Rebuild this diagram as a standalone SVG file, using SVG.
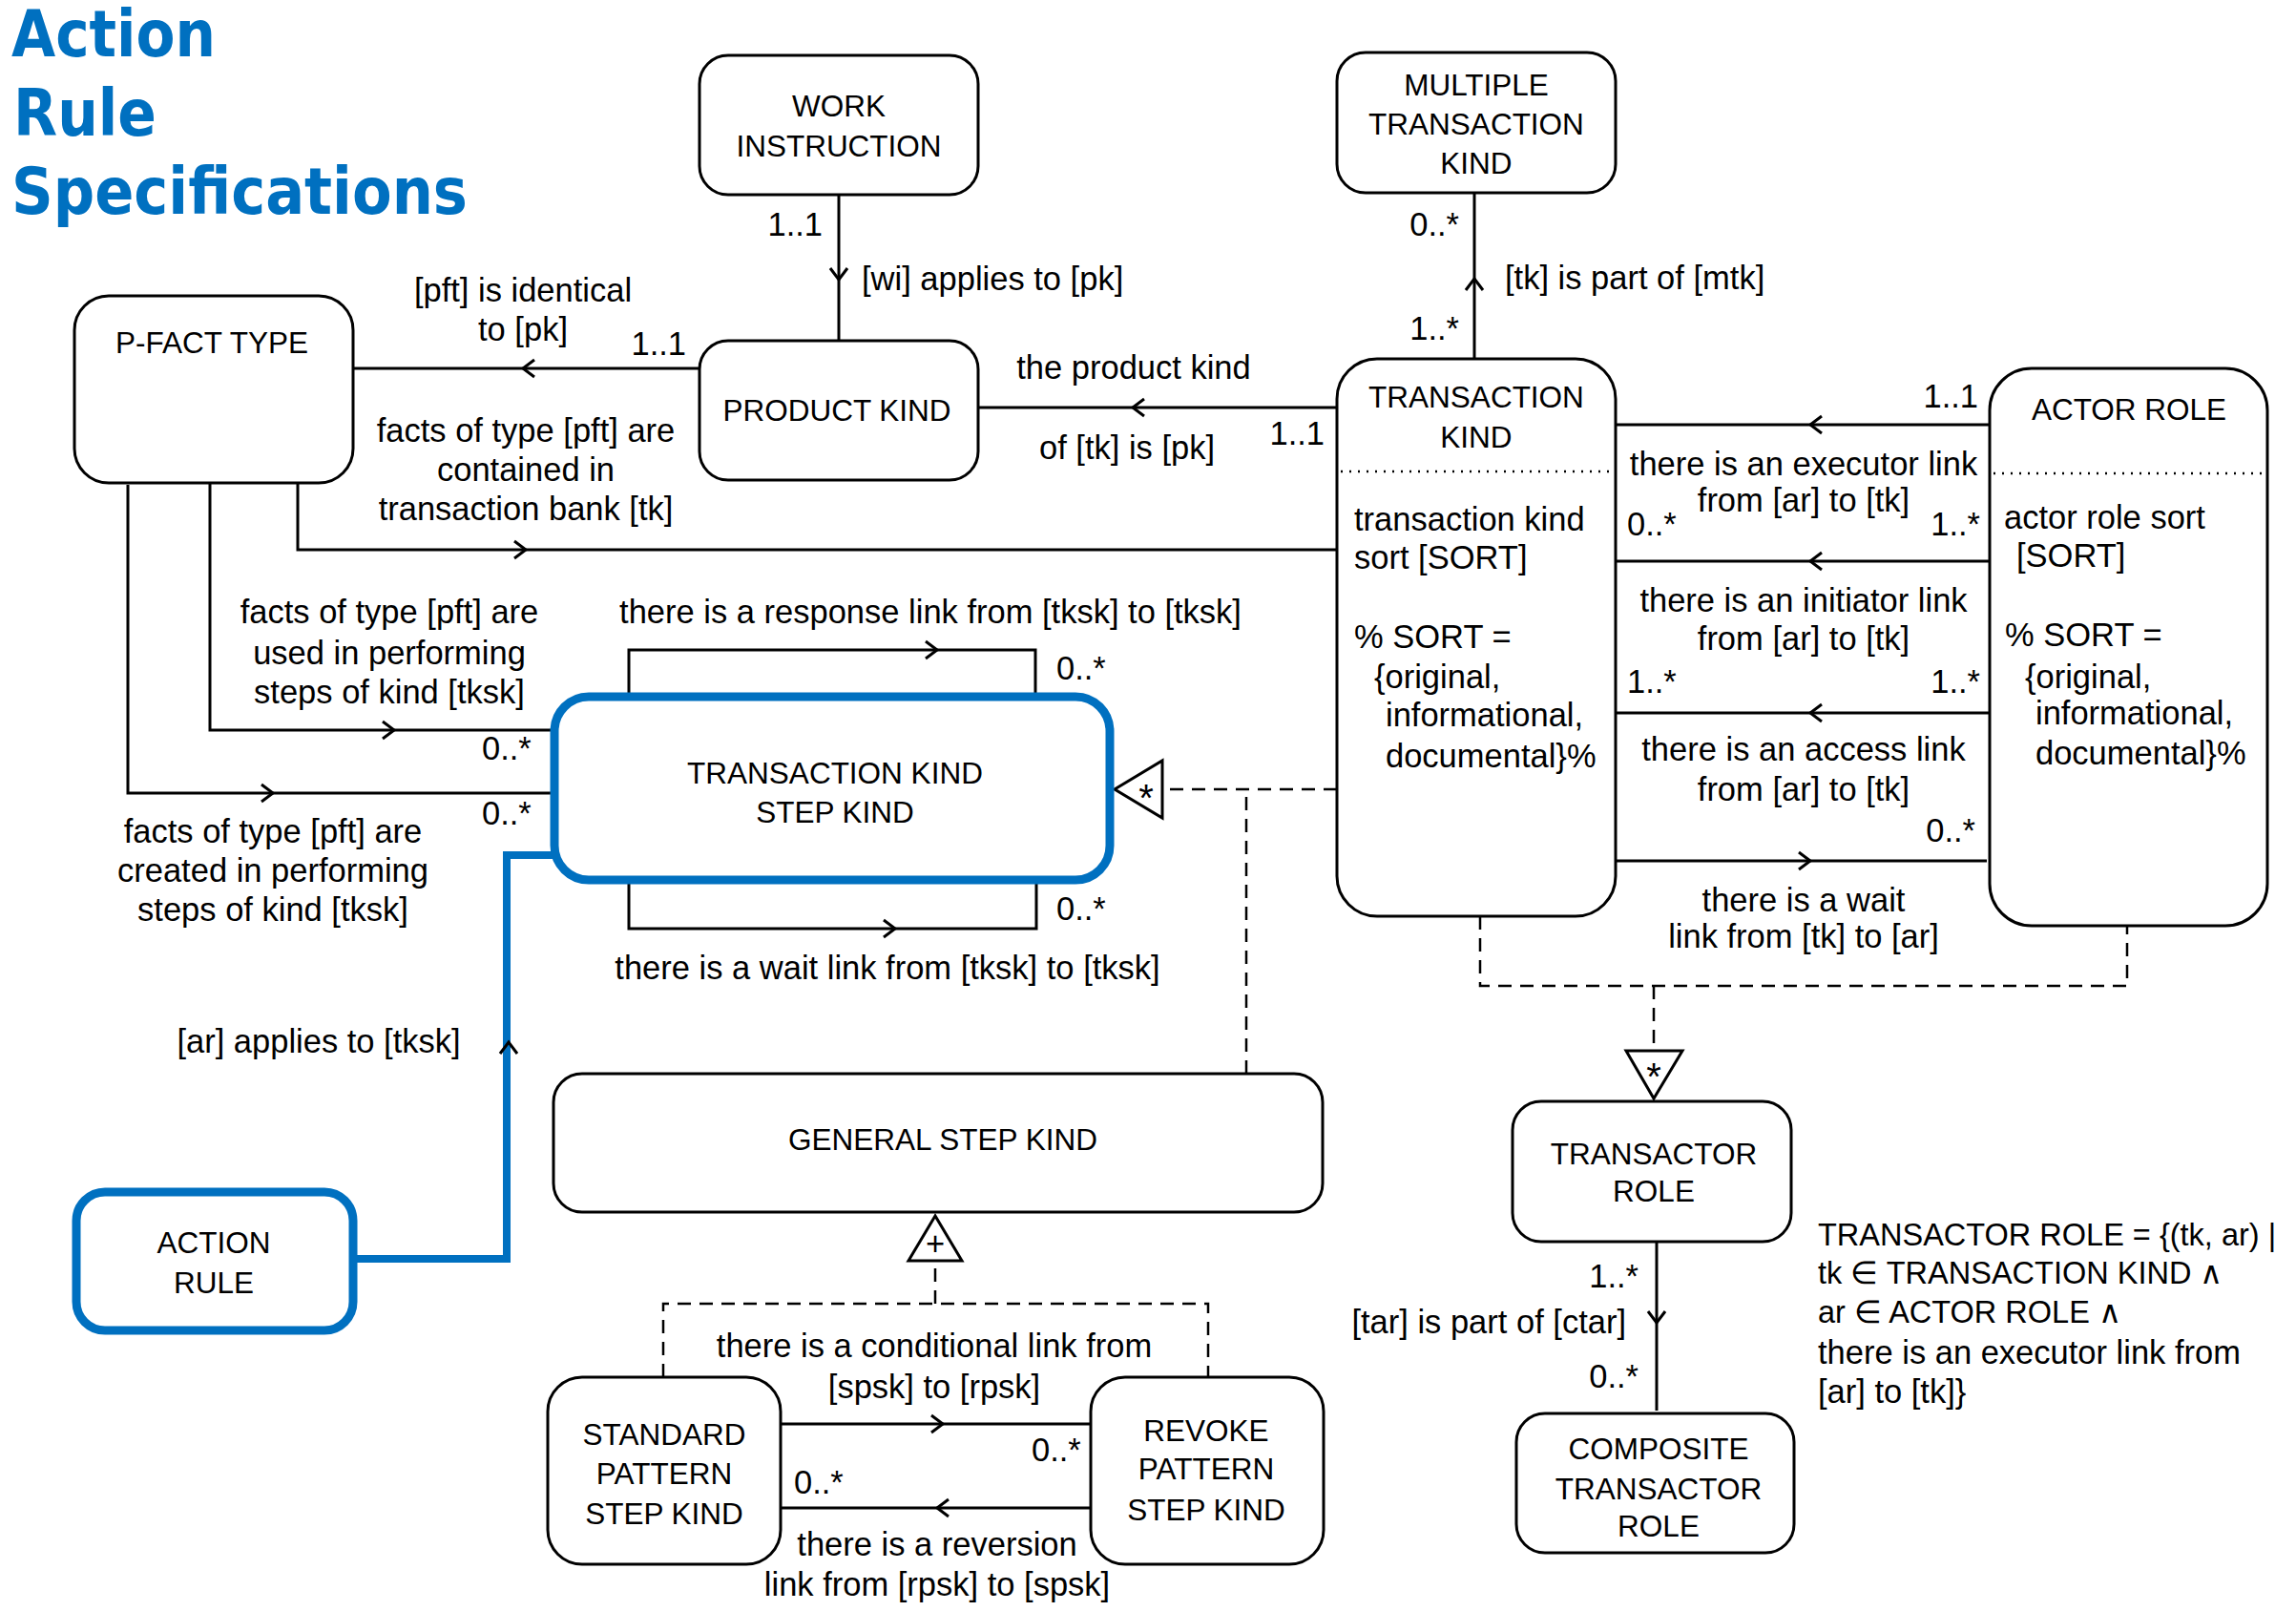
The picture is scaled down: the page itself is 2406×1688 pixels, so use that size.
<svg xmlns="http://www.w3.org/2000/svg" xmlns:xlink="http://www.w3.org/1999/xlink" width="2406" height="1688" viewBox="0 0 2406 1688">
<style>
.t{font-family:"Liberation Sans",Arial,sans-serif;font-size:34.5px;fill:#000}
.n{font-family:"Liberation Sans",Arial,sans-serif;font-size:31.5px;fill:#000;text-anchor:middle}
.f{font-family:"Liberation Sans",Arial,sans-serif;font-size:32.5px;fill:#000}
.c{text-anchor:middle}
.e{text-anchor:end}
.star{font-family:"Liberation Sans",Arial,sans-serif;font-size:40px;fill:#000;text-anchor:middle}
.title{font-family:"DejaVu Sans",Verdana,sans-serif;font-weight:bold;font-size:68px;fill:#0070C0}
.box{fill:#fff;stroke:#000;stroke-width:3}
.bbox{fill:#fff;stroke:#0070C0;stroke-width:9}
.ln{fill:none;stroke:#000;stroke-width:3}
.bln{fill:none;stroke:#0070C0;stroke-width:8}
.dash{fill:none;stroke:#000;stroke-width:2.5;stroke-dasharray:14 9}
.dot{fill:none;stroke:#000;stroke-width:2.5;stroke-dasharray:2 7}
.tri{fill:#fff;stroke:#000;stroke-width:3}
.chev{fill:none;stroke:#000;stroke-width:3}
</style>
<defs>
<path id="chev" class="chev" d="M-12,-9 L0,0 L-12,9"/>
</defs>
<rect width="2406" height="1688" fill="#fff"/>
<g id="title">
<text class="title" x="12" y="59" textLength="214" lengthAdjust="spacingAndGlyphs">Action</text>
<text class="title" x="14" y="142" textLength="150" lengthAdjust="spacingAndGlyphs">Rule</text>
<text class="title" x="12" y="224" textLength="478" lengthAdjust="spacingAndGlyphs">Specifications</text>
</g>
<g id="connectors">
<!-- WI -> PK -->
<path class="ln" d="M879 205 V357"/>
<use xlink:href="#chev" transform="translate(879 293) rotate(90)"/>
<text class="t e" x="862" y="247">1..1</text>
<text class="t" x="903" y="304">[wi] applies to [pk]</text>
<!-- TK -> MTK -->
<path class="ln" d="M1545 375 V203"/>
<use xlink:href="#chev" transform="translate(1545 292) rotate(-90)"/>
<text class="t e" x="1529" y="247">0..*</text>
<text class="t e" x="1529" y="356">1..*</text>
<text class="t" x="1577" y="303">[tk] is part of [mtk]</text>
<!-- PK -> PFT -->
<path class="ln" d="M733 386 H370"/>
<use xlink:href="#chev" transform="translate(548 386) rotate(180)"/>
<text class="t c" x="548" y="316">[pft] is identical</text>
<text class="t c" x="548" y="357">to [pk]</text>
<text class="t e" x="719" y="372">1..1</text>
<text class="t c" x="551" y="463">facts of type [pft] are</text>
<text class="t c" x="551" y="504">contained in</text>
<text class="t c" x="551" y="545">transaction bank [tk]</text>
<!-- TK -> PK -->
<path class="ln" d="M1401 427 H1024"/>
<use xlink:href="#chev" transform="translate(1187 427) rotate(180)"/>
<text class="t c" x="1188" y="397">the product kind</text>
<text class="t c" x="1181" y="481">of [tk] is [pk]</text>
<text class="t e" x="1388" y="466">1..1</text>
<!-- PFT -> TK -->
<path class="ln" d="M312 506 V576 H1401"/>
<use xlink:href="#chev" transform="translate(551 576)"/>
<!-- PFT -> TKSK used -->
<path class="ln" d="M220 506 V765 H580"/>
<use xlink:href="#chev" transform="translate(413 765)"/>
<text class="t c" x="408" y="653">facts of type [pft] are</text>
<text class="t c" x="408" y="696">used in performing</text>
<text class="t c" x="408" y="737">steps of kind [tksk]</text>
<text class="t" x="505" y="796">0..*</text>
<!-- PFT -> TKSK created -->
<path class="ln" d="M134 508 V831 H580"/>
<use xlink:href="#chev" transform="translate(286 831)"/>
<text class="t" x="505" y="864">0..*</text>
<text class="t c" x="286" y="883">facts of type [pft] are</text>
<text class="t c" x="286" y="924">created in performing</text>
<text class="t c" x="286" y="965">steps of kind [tksk]</text>
<!-- response loop -->
<path class="ln" d="M659 730 V681 H1085 V730"/>
<use xlink:href="#chev" transform="translate(982 681)"/>
<text class="t c" x="975" y="653">there is a response link from [tksk] to [tksk]</text>
<text class="t" x="1107" y="712">0..*</text>
<!-- wait loop -->
<path class="ln" d="M659 922 V973 H1086 V922"/>
<use xlink:href="#chev" transform="translate(938 973)"/>
<text class="t" x="1107" y="964">0..*</text>
<text class="t c" x="930" y="1026">there is a wait link from [tksk] to [tksk]</text>
<!-- ACTION RULE -> TKSK -->
<path class="bln" d="M374 1319 H531 V896 H582"/>
<use xlink:href="#chev" transform="translate(533 1092) rotate(-90)"/>
<text class="t c" x="334" y="1103">[ar] applies to [tksk]</text>
<!-- specialisation into TKSK -->
<path class="dash" d="M1401 827 H1218"/>
<path class="dash" d="M1306 1125 V827"/>
<polygon class="tri" points="1168,827 1218,797 1218,857"/>
<text class="star" x="1201" y="850">*</text>
<!-- TK / AR -> TRANSACTOR ROLE -->
<path class="dash" d="M1551 960 V1033 H2229 V970"/>
<path class="dash" d="M1733 1033 V1101"/>
<polygon class="tri" points="1704,1101 1763,1101 1733,1151"/>
<text class="star" x="1733" y="1142">*</text>
<!-- SPSK / RPSK -> GSK -->
<path class="dash" d="M695 1443 V1366 H1266 V1443"/>
<path class="dash" d="M980 1366 V1321"/>
<polygon class="tri" points="980,1274 952,1321 1008,1321"/>
<text class="t c" x="980" y="1315">+</text>
<!-- conditional link -->
<path class="ln" d="M817 1492 H1144"/>
<use xlink:href="#chev" transform="translate(988 1492)"/>
<text class="t c" x="979" y="1422">there is a conditional link from</text>
<text class="t c" x="979" y="1465">[spsk] to [rpsk]</text>
<text class="t" x="1081" y="1531">0..*</text>
<!-- reversion link -->
<path class="ln" d="M1142 1580 H817"/>
<use xlink:href="#chev" transform="translate(982 1580) rotate(180)"/>
<text class="t" x="832" y="1565">0..*</text>
<text class="t c" x="982" y="1630">there is a reversion</text>
<text class="t c" x="982" y="1672">link from [rpsk] to [spsk]</text>
<!-- TR -> CTR -->
<path class="ln" d="M1736 1302 V1478"/>
<use xlink:href="#chev" transform="translate(1736 1386) rotate(90)"/>
<text class="t e" x="1717" y="1349">1..*</text>
<text class="t e" x="1704" y="1397">[tar] is part of [ctar]</text>
<text class="t e" x="1717" y="1454">0..*</text>
<!-- AR -> TK executor -->
<path class="ln" d="M2085 445 H1693"/>
<use xlink:href="#chev" transform="translate(1897 445) rotate(180)"/>
<text class="t e" x="2073" y="427">1..1</text>
<text class="t c" x="1890" y="498">there is an executor link</text>
<text class="t c" x="1890" y="536">from [ar] to [tk]</text>
<text class="t" x="1705" y="561">0..*</text>
<text class="t e" x="2075" y="561">1..*</text>
<!-- initiator -->
<path class="ln" d="M2085 588 H1693"/>
<use xlink:href="#chev" transform="translate(1897 588) rotate(180)"/>
<text class="t c" x="1890" y="641">there is an initiator link</text>
<text class="t c" x="1890" y="681">from [ar] to [tk]</text>
<text class="t" x="1705" y="726">1..*</text>
<text class="t e" x="2075" y="726">1..*</text>
<!-- access -->
<path class="ln" d="M2085 747 H1693"/>
<use xlink:href="#chev" transform="translate(1897 747) rotate(180)"/>
<text class="t c" x="1890" y="797">there is an access link</text>
<text class="t c" x="1890" y="839">from [ar] to [tk]</text>
<text class="t e" x="2070" y="882">0..*</text>
<!-- wait TK -> AR -->
<path class="ln" d="M1693 902 H2082"/>
<use xlink:href="#chev" transform="translate(1897 902)"/>
<text class="t c" x="1890" y="955">there is a wait</text>
<text class="t c" x="1890" y="993">link from [tk] to [ar]</text>
</g>
<g id="work-instruction">
<rect class="box" x="733" y="58" width="292" height="146" rx="30"/>
<text class="n" x="879" y="122">WORK</text>
<text class="n" x="879" y="164">INSTRUCTION</text>
</g>
<g id="product-kind">
<rect class="box" x="733" y="357" width="292" height="146" rx="30"/>
<text class="n" x="877" y="441">PRODUCT KIND</text>
</g>
<g id="multiple-transaction-kind">
<rect class="box" x="1401" y="55" width="292" height="147" rx="30"/>
<text class="n" x="1547" y="100">MULTIPLE</text>
<text class="n" x="1547" y="141">TRANSACTION</text>
<text class="n" x="1547" y="182">KIND</text>
</g>
<g id="transaction-kind">
<rect class="box" x="1401" y="376" width="292" height="584" rx="42"/>
<text class="n" x="1547" y="427">TRANSACTION</text>
<text class="n" x="1547" y="469">KIND</text>
<path class="dot" d="M1405 494 H1690"/>
<text class="t" x="1419" y="556">transaction kind</text>
<text class="t" x="1419" y="596">sort [SORT]</text>
<text class="t" x="1419" y="679">% SORT =</text>
<text class="t" x="1440" y="721">{original,</text>
<text class="t" x="1452" y="761">informational,</text>
<text class="t" x="1452" y="804">documental}%</text>
</g>
<g id="actor-role">
<rect class="box" x="2085" y="386" width="291" height="584" rx="44"/>
<text class="n" x="2231" y="440">ACTOR ROLE</text>
<path class="dot" d="M2089 496 H2374"/>
<text class="t" x="2100" y="554">actor role sort</text>
<text class="t" x="2113" y="594">[SORT]</text>
<text class="t" x="2101" y="677">% SORT =</text>
<text class="t" x="2122" y="721">{original,</text>
<text class="t" x="2133" y="759">informational,</text>
<text class="t" x="2133" y="801">documental}%</text>
</g>
<g id="p-fact-type">
<rect class="box" x="78" y="310" width="292" height="196" rx="36"/>
<text class="n" x="222" y="370">P-FACT TYPE</text>
</g>
<g id="transaction-kind-step-kind">
<rect class="bbox" x="581" y="730" width="582" height="192" rx="36"/>
<text class="n" x="875" y="821">TRANSACTION KIND</text>
<text class="n" x="875" y="862">STEP KIND</text>
</g>
<g id="general-step-kind">
<rect class="box" x="580" y="1125" width="806" height="145" rx="30"/>
<text class="n" x="988" y="1205">GENERAL STEP KIND</text>
</g>
<g id="standard-pattern-step-kind">
<rect class="box" x="574" y="1443" width="244" height="196" rx="36"/>
<text class="n" x="696" y="1514">STANDARD</text>
<text class="n" x="696" y="1555">PATTERN</text>
<text class="n" x="696" y="1597">STEP KIND</text>
</g>
<g id="revoke-pattern-step-kind">
<rect class="box" x="1143" y="1443" width="244" height="196" rx="36"/>
<text class="n" x="1264" y="1510">REVOKE</text>
<text class="n" x="1264" y="1550">PATTERN</text>
<text class="n" x="1264" y="1593">STEP KIND</text>
</g>
<g id="action-rule">
<rect class="bbox" x="80" y="1249" width="290" height="145" rx="30"/>
<text class="n" x="224" y="1313">ACTION</text>
<text class="n" x="224" y="1355">RULE</text>
</g>
<g id="transactor-role">
<rect class="box" x="1585" y="1154" width="292" height="147" rx="30"/>
<text class="n" x="1733" y="1220">TRANSACTOR</text>
<text class="n" x="1733" y="1259">ROLE</text>
</g>
<g id="composite-transactor-role">
<rect class="box" x="1589" y="1481" width="291" height="146" rx="30"/>
<text class="n" x="1738" y="1529">COMPOSITE</text>
<text class="n" x="1738" y="1571">TRANSACTOR</text>
<text class="n" x="1738" y="1610">ROLE</text>
</g>
<g id="transactor-role-definition">
<text class="f" x="1905" y="1305">TRANSACTOR ROLE = {(tk, ar) |</text>
<text class="f" x="1905" y="1345">tk ∈ TRANSACTION KIND ∧</text>
<text class="f" x="1905" y="1386">ar ∈ ACTOR ROLE ∧</text>
<text class="t" x="1905" y="1429">there is an executor link from</text>
<text class="t" x="1905" y="1470">[ar] to [tk]}</text>
</g>
</svg>
